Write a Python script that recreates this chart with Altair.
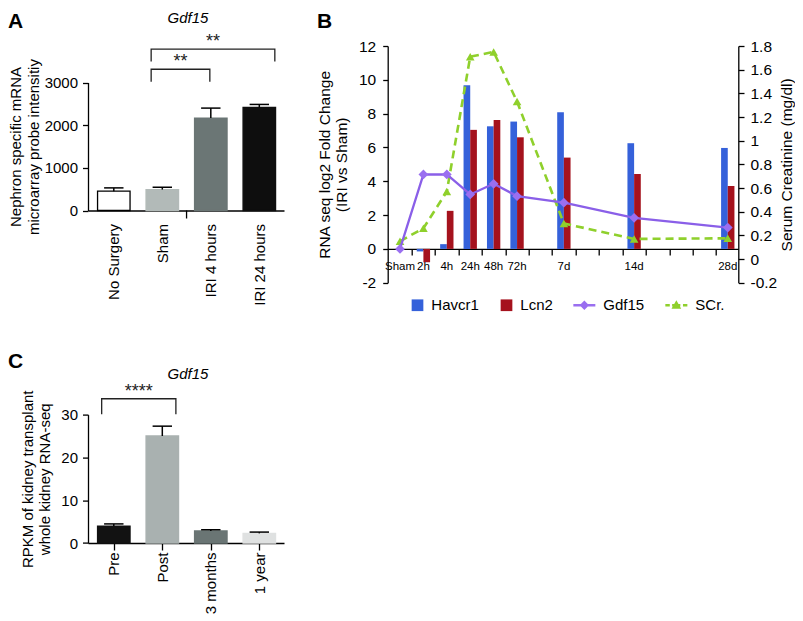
import json
import altair as alt
import pandas as pd

FONT = "Liberation Sans"

# ---------------- Panel A data ----------------
a_groups = ["No Surgery", "Sham", "IRI 4 hours", "IRI 24 hours"]
a_means = [452, 491, 2166, 2416]
a_sem = [78, 54, 234, 70]
a_sig_from = [0.77, 0.77]
a_sig_to = [1.98, 3.32]
a_sig_low = [3020, 3490]
a_sig_high = [3310, 3780]
a_sig_star_y = [3490, 3960]
a_sig_text = ["**", "**"]
a_extra_tick = [1.5]

# ---------------- Panel C data ----------------
c_groups = ["Pre", "Post", "3 months", "1 year"]
c_means = [3.96, 25.0, 2.8, 2.25]
c_sem = [0.5, 2.3, 0.3, 0.3]
c_sig_from = [-0.25]
c_sig_to = [1.28]
c_sig_low = [30.1]
c_sig_high = [33.7]
c_sig_star_y = [35.3]
c_sig_text = ["****"]

# ---------------- Panel B data ----------------
b_labels = ["Sham", "2h", "4h", "24h", "48h", "72h", "7d", "14d", "28d"]
b_pos = [0, 1, 2, 3, 4, 5, 7, 10, 14]
havcr1 = [None, -0.15, 0.28, 9.68, 7.25, 7.53, 8.08, 6.25, 5.97]
lcn2 = [None, -0.79, 2.25, 7.04, 7.63, 6.6, 5.4, 4.43, 3.72]
gdf15 = [0.0, 4.4, 4.4, 3.22, 3.85, 3.12, 2.73, 1.84, 1.26]
scr = [0.15, 0.26, 0.57, 1.71, 1.75, 1.33, 0.30, 0.17, 0.175]
b_series = ["Havcr1", "Lcn2", "Gdf15", "SCr."]

# ---------------- styles ----------------
A_FILL = ["#ffffff", "#b2bab8", "#6b7675", "#0e0e0e"]
A_STROKE = ["#000000", "#b2bab8", "#6b7675", "#0e0e0e"]
C_FILL = ["#121212", "#a9b1b0", "#6a7574", "#dfe1e1"]
BLUE, RED, PURPLE, PURPLE_PT, GREEN = "#3561da", "#a5121d", "#8a5fe8", "#9a6ff0", "#8fd02c"

HALF = 0.335
CAP = 0.2
XDOM = [-0.532, 3.509]
PW = 196  # width of bar panels


def bar_panel(groups, means, sem, fills, strokes, ydom, yvals, yscale_range, height,
              ytitle, title_x, title_lh, xticks, label_pad,
              sig_from, sig_to, sig_low, sig_high, sig_star, sig_text,
              letter, letter_y, gene_y, extra_tick=None):
    df = pd.DataFrame({"group": groups, "idx": list(range(len(groups))),
                       "mean": means, "sem": sem})
    df["x0"] = df["idx"] - HALF
    df["x1"] = df["idx"] + HALF
    df["top"] = df["mean"] + df["sem"]
    df["cl"] = df["idx"] - CAP
    df["cr"] = df["idx"] + CAP

    xs = alt.Scale(domain=XDOM, nice=False, zero=False)
    ys_kw = dict(domain=ydom, nice=False, zero=False)
    if yscale_range is not None:
        ys_kw["range"] = yscale_range
    ys = alt.Scale(**ys_kw)
    mid = (yscale_range[0] + yscale_range[1]) / 2 if yscale_range else height / 2

    xaxis = alt.Axis(values=list(range(len(groups))),
                     labelExpr=json.dumps(groups) + "[datum.value]",
                     labelAngle=270, labelFontSize=15, labelColor="black",
                     ticks=xticks, tickSize=7 if xticks else 0, tickColor="black",
                     tickWidth=1.3, labelPadding=label_pad, domainColor="black",
                     domainWidth=1.3, title=None, labelFlush=False, labelOverlap=False,
                     grid=False)
    yaxis = alt.Axis(values=yvals, format="d", tickSize=5.5, labelPadding=5,
                     labelFontSize=15, labelColor="black", domainColor="black",
                     tickColor="black", domainWidth=1.3, tickWidth=1.3, grid=False,
                     labelOverlap=False,
                     title=ytitle, titleFontSize=15, titleFontWeight="normal",
                     titleAngle=270, titleX=title_x, titleY=mid, titleAlign="center",
                     titleBaseline="top", titleLineHeight=title_lh, titleColor="black")

    def X(f):
        return alt.X(f, scale=xs, axis=xaxis)

    def Y(f):
        return alt.Y(f, scale=ys, axis=yaxis)

    base = alt.Chart(df)
    bars = base.mark_bar(strokeWidth=1.3).encode(
        x=X("x0:Q"), x2="x1:Q", y=Y("mean:Q"), y2=alt.datum(0),
        fill=alt.Fill("group:N", scale=alt.Scale(domain=groups, range=fills), legend=None),
        stroke=alt.Stroke("group:N", scale=alt.Scale(domain=groups, range=strokes), legend=None),
    )
    err = base.mark_rule(color="black", strokeWidth=1.5).encode(
        x=X("idx:Q"), y=Y("mean:Q"), y2="top:Q")
    caps = base.mark_rule(color="black", strokeWidth=1.5).encode(
        x=X("cl:Q"), x2="cr:Q", y=Y("top:Q"))

    rows = []
    for i in range(len(sig_from)):
        pts = [(sig_from[i], sig_low[i]), (sig_from[i], sig_high[i]),
               (sig_to[i], sig_high[i]), (sig_to[i], sig_low[i])]
        for k, (px, py) in enumerate(pts):
            rows.append({"id": i, "ord": k, "bx": px, "by": py})
    br = alt.Chart(pd.DataFrame(rows)).mark_line(color="#222222", strokeWidth=1.3).encode(
        x=X("bx:Q"), y=Y("by:Q"), detail="id:N", order="ord:Q")
    sdf = pd.DataFrame({"mx": [(a + b) / 2 for a, b in zip(sig_from, sig_to)],
                        "sy": sig_star, "txt": sig_text})
    stars = alt.Chart(sdf).mark_text(fontSize=18, baseline="middle", color="#222222").encode(
        x=X("mx:Q"), y=Y("sy:Q"), text="txt:N")

    gene = alt.Chart(pd.DataFrame({"t": ["Gdf15"]})).mark_text(
        fontSize=15, fontStyle="italic", baseline="top", align="center").encode(
        x=alt.value(100), y=alt.value(gene_y), text="t:N")
    let = alt.Chart(pd.DataFrame({"t": [letter]})).mark_text(
        fontSize=21, fontWeight="bold", baseline="top", align="left").encode(
        x=alt.value(-80), y=alt.value(letter_y), text="t:N")

    layers = [bars, err, caps, br, stars, gene, let]
    if extra_tick:
        tk = alt.Chart(pd.DataFrame({"tx": extra_tick})).mark_rule(
            color="black", strokeWidth=1.3).encode(
            x=X("tx:Q"),
            y=alt.value(yscale_range[0]), y2=alt.value(yscale_range[0] + 8))
        layers.append(tk)
    return alt.layer(*layers).properties(width=PW, height=height)


panel_a = bar_panel(a_groups, a_means, a_sem, A_FILL, A_STROKE, [0, 3000],
                    [0, 1000, 2000, 3000], [164.5, 36.5], 164.5,
                    ["Nephron specific mRNA", "microarray probe intensitiy"], -80, 18,
                    False, 13, a_sig_from, a_sig_to, a_sig_low, a_sig_high,
                    a_sig_star_y, a_sig_text, "A", -35, -35, a_extra_tick)

panel_c = bar_panel(c_groups, c_means, c_sem, C_FILL, C_FILL, [0, 30],
                    [0, 10, 20, 30], None, 128.4,
                    ["RPKM of kidney transplant", "whole kidney RNA-seq"], -68, 17,
                    True, 2, c_sig_from, c_sig_to, c_sig_low, c_sig_high,
                    c_sig_star_y, c_sig_text, "C", -63.5, -48)

# ---------------- Panel B ----------------
BW, BH = 350.6, 236.7
BARW = 0.285
bdf = pd.DataFrame({"time": b_labels, "pos": b_pos, "havcr1": havcr1, "lcn2": lcn2,
                    "gdf15": gdf15, "scr": scr})
bdf["hx0"] = bdf["pos"] - BARW
bdf["lx1"] = bdf["pos"] + BARW
bdf["zero"] = 0.0

xs_b = alt.Scale(domain=[-0.525, 14.45], nice=False, zero=False)
yl = alt.Scale(domain=[-2, 12], nice=False, zero=False)
yr = alt.Scale(domain=[-0.2, 1.8], nice=False, zero=False)

xaxis_b = alt.Axis(values=[i + 0.5 for i in range(14)], labels=False, tickSize=6,
                   tickColor="black", tickWidth=1.3, domainColor="black", domainWidth=1.3,
                   offset=-33.8, title=None, grid=False)
yaxis_l = alt.Axis(orient="left", values=list(range(-2, 13, 2)), labelExpr="datum.value + ''",
                   tickSize=5, labelPadding=7, labelFontSize=15.5, labelColor="black",
                   domainColor="black", tickColor="black", domainWidth=1.3, tickWidth=1.3,
                   grid=False, labelOverlap=False,
                   title=["RNA seq log2 Fold Change", "(IRI vs Sham)"],
                   titleFontSize=15.5, titleFontWeight="normal", titleAngle=270,
                   titleX=-70.5, titleY=BH / 2, titleAlign="center", titleBaseline="top",
                   titleLineHeight=17, titleColor="black")
yaxis_r = alt.Axis(orient="right", values=[round(-0.2 + 0.2 * i, 1) for i in range(11)],
                   labelExpr="datum.value + ''", tickSize=5.7, labelPadding=6,
                   labelFontSize=15.5, labelColor="black", domainColor="black",
                   tickColor="black", domainWidth=1.3, tickWidth=1.3, grid=False,
                   labelOverlap=False,
                   title="Serum Creatinine (mg/dl)", titleFontSize=15.5,
                   titleFontWeight="normal", titleAngle=270, titleX=41, titleY=BH / 2,
                   titleAlign="center", titleBaseline="top", titleColor="black")

bbase = alt.Chart(bdf)
bars_h = bbase.transform_filter("isValid(datum.havcr1)").mark_bar(color=BLUE).encode(
    x=alt.X("hx0:Q", scale=xs_b, axis=xaxis_b), x2="pos:Q",
    y=alt.Y("havcr1:Q", scale=yl, axis=yaxis_l), y2=alt.datum(0))
bars_l = bbase.transform_filter("isValid(datum.lcn2)").mark_bar(color=RED).encode(
    x=alt.X("pos:Q", scale=xs_b, axis=xaxis_b), x2="lx1:Q",
    y=alt.Y("lcn2:Q", scale=yl, axis=yaxis_l), y2=alt.datum(0))
xlab = bbase.mark_text(fontSize=11.5, baseline="middle", dy=18, color="black").encode(
    x=alt.X("pos:Q", scale=xs_b, axis=xaxis_b),
    y=alt.Y("zero:Q", scale=yl, axis=yaxis_l), text="time:N")
letter_b = alt.Chart(pd.DataFrame({"t": ["B"]})).mark_text(
    fontSize=21, fontWeight="bold", baseline="top", align="left").encode(
    x=alt.value(-70.7), y=alt.value(-35), text="t:N")

# legend symbols (custom paths in the [-1,1] box)
SQ = "M-1,-1L1,-1L1,1L-1,1Z"
GDF_SYM = "M-2.76,-0.2L1,-0.2L1,0.2L-2.76,0.2Z M-0.88,-0.8L-0.08,0L-0.88,0.8L-1.68,0Z"
SCR_SYM = ("M-2.76,-0.2L-2.0,-0.2L-2.0,0.2L-2.76,0.2Z M-1.6,-0.2L-0.2,-0.2L-0.2,0.2L-1.6,0.2Z "
           "M0.25,-0.2L1,-0.2L1,0.2L0.25,0.2Z M-0.88,-0.85L-0.05,0.6L-1.71,0.6Z")
leg = alt.Legend(orient="none", legendX=22.3, legendY=251.5, direction="horizontal",
                 title=None, labelFontSize=15, labelColor="black", symbolSize=137,
                 labelOffset=6.3, columnPadding=20, padding=0, symbolStrokeWidth=0,
                 symbolOpacity=1)
legend_dummy = alt.Chart(pd.DataFrame({"series": b_series})).mark_point(
    filled=True, opacity=1, clip=True).encode(
    x=alt.value(-30), y=alt.value(-30),
    color=alt.Color("series:N", scale=alt.Scale(domain=b_series,
                    range=[BLUE, RED, PURPLE_PT, GREEN]), legend=leg),
    shape=alt.Shape("series:N", scale=alt.Scale(domain=b_series,
                    range=[SQ, SQ, GDF_SYM, SCR_SYM]), legend=leg))

left_group = alt.layer(bars_h, bars_l, xlab, letter_b, legend_dummy)

scr_line = bbase.mark_line(color=GREEN, strokeWidth=2.6, strokeDash=[8, 5]).encode(
    x=alt.X("pos:Q", scale=xs_b, axis=xaxis_b), y=alt.Y("scr:Q", scale=yr, axis=yaxis_r))
scr_pts = bbase.mark_point(shape="triangle-up", filled=True, color=GREEN, size=75,
                           opacity=1).encode(
    x=alt.X("pos:Q", scale=xs_b, axis=xaxis_b), y=alt.Y("scr:Q", scale=yr, axis=yaxis_r))
green_group = alt.layer(scr_line, scr_pts)

gdf_line = bbase.mark_line(color=PURPLE, strokeWidth=2.3).encode(
    x=alt.X("pos:Q", scale=xs_b, axis=xaxis_b), y=alt.Y("gdf15:Q", scale=yl, axis=None))
gdf_pts = bbase.mark_point(shape="diamond", filled=True, color=PURPLE_PT, size=95,
                           opacity=1).encode(
    x=alt.X("pos:Q", scale=xs_b, axis=xaxis_b), y=alt.Y("gdf15:Q", scale=yl, axis=None))
purple_group = alt.layer(gdf_line, gdf_pts)

panel_b = alt.layer(left_group, green_group, purple_group).resolve_scale(
    y="independent").properties(width=BW, height=BH)

chart = alt.concat(panel_a, panel_b, panel_c, columns=2, align="each", bounds="flush",
                   spacing={"row": 131.6, "column": 103.7}).resolve_scale(
    fill="independent", stroke="independent", color="independent",
    shape="independent").properties(
    padding={"top": 3, "left": 0, "right": 0, "bottom": 0}).configure(
    font=FONT).configure_view(stroke=None).configure_axis(
    labelFont=FONT, titleFont=FONT, grid=False, labelOverlap=False).configure_legend(
    labelFont=FONT)

chart.save("out.html", embed_options={"renderer": "svg", "actions": False})
